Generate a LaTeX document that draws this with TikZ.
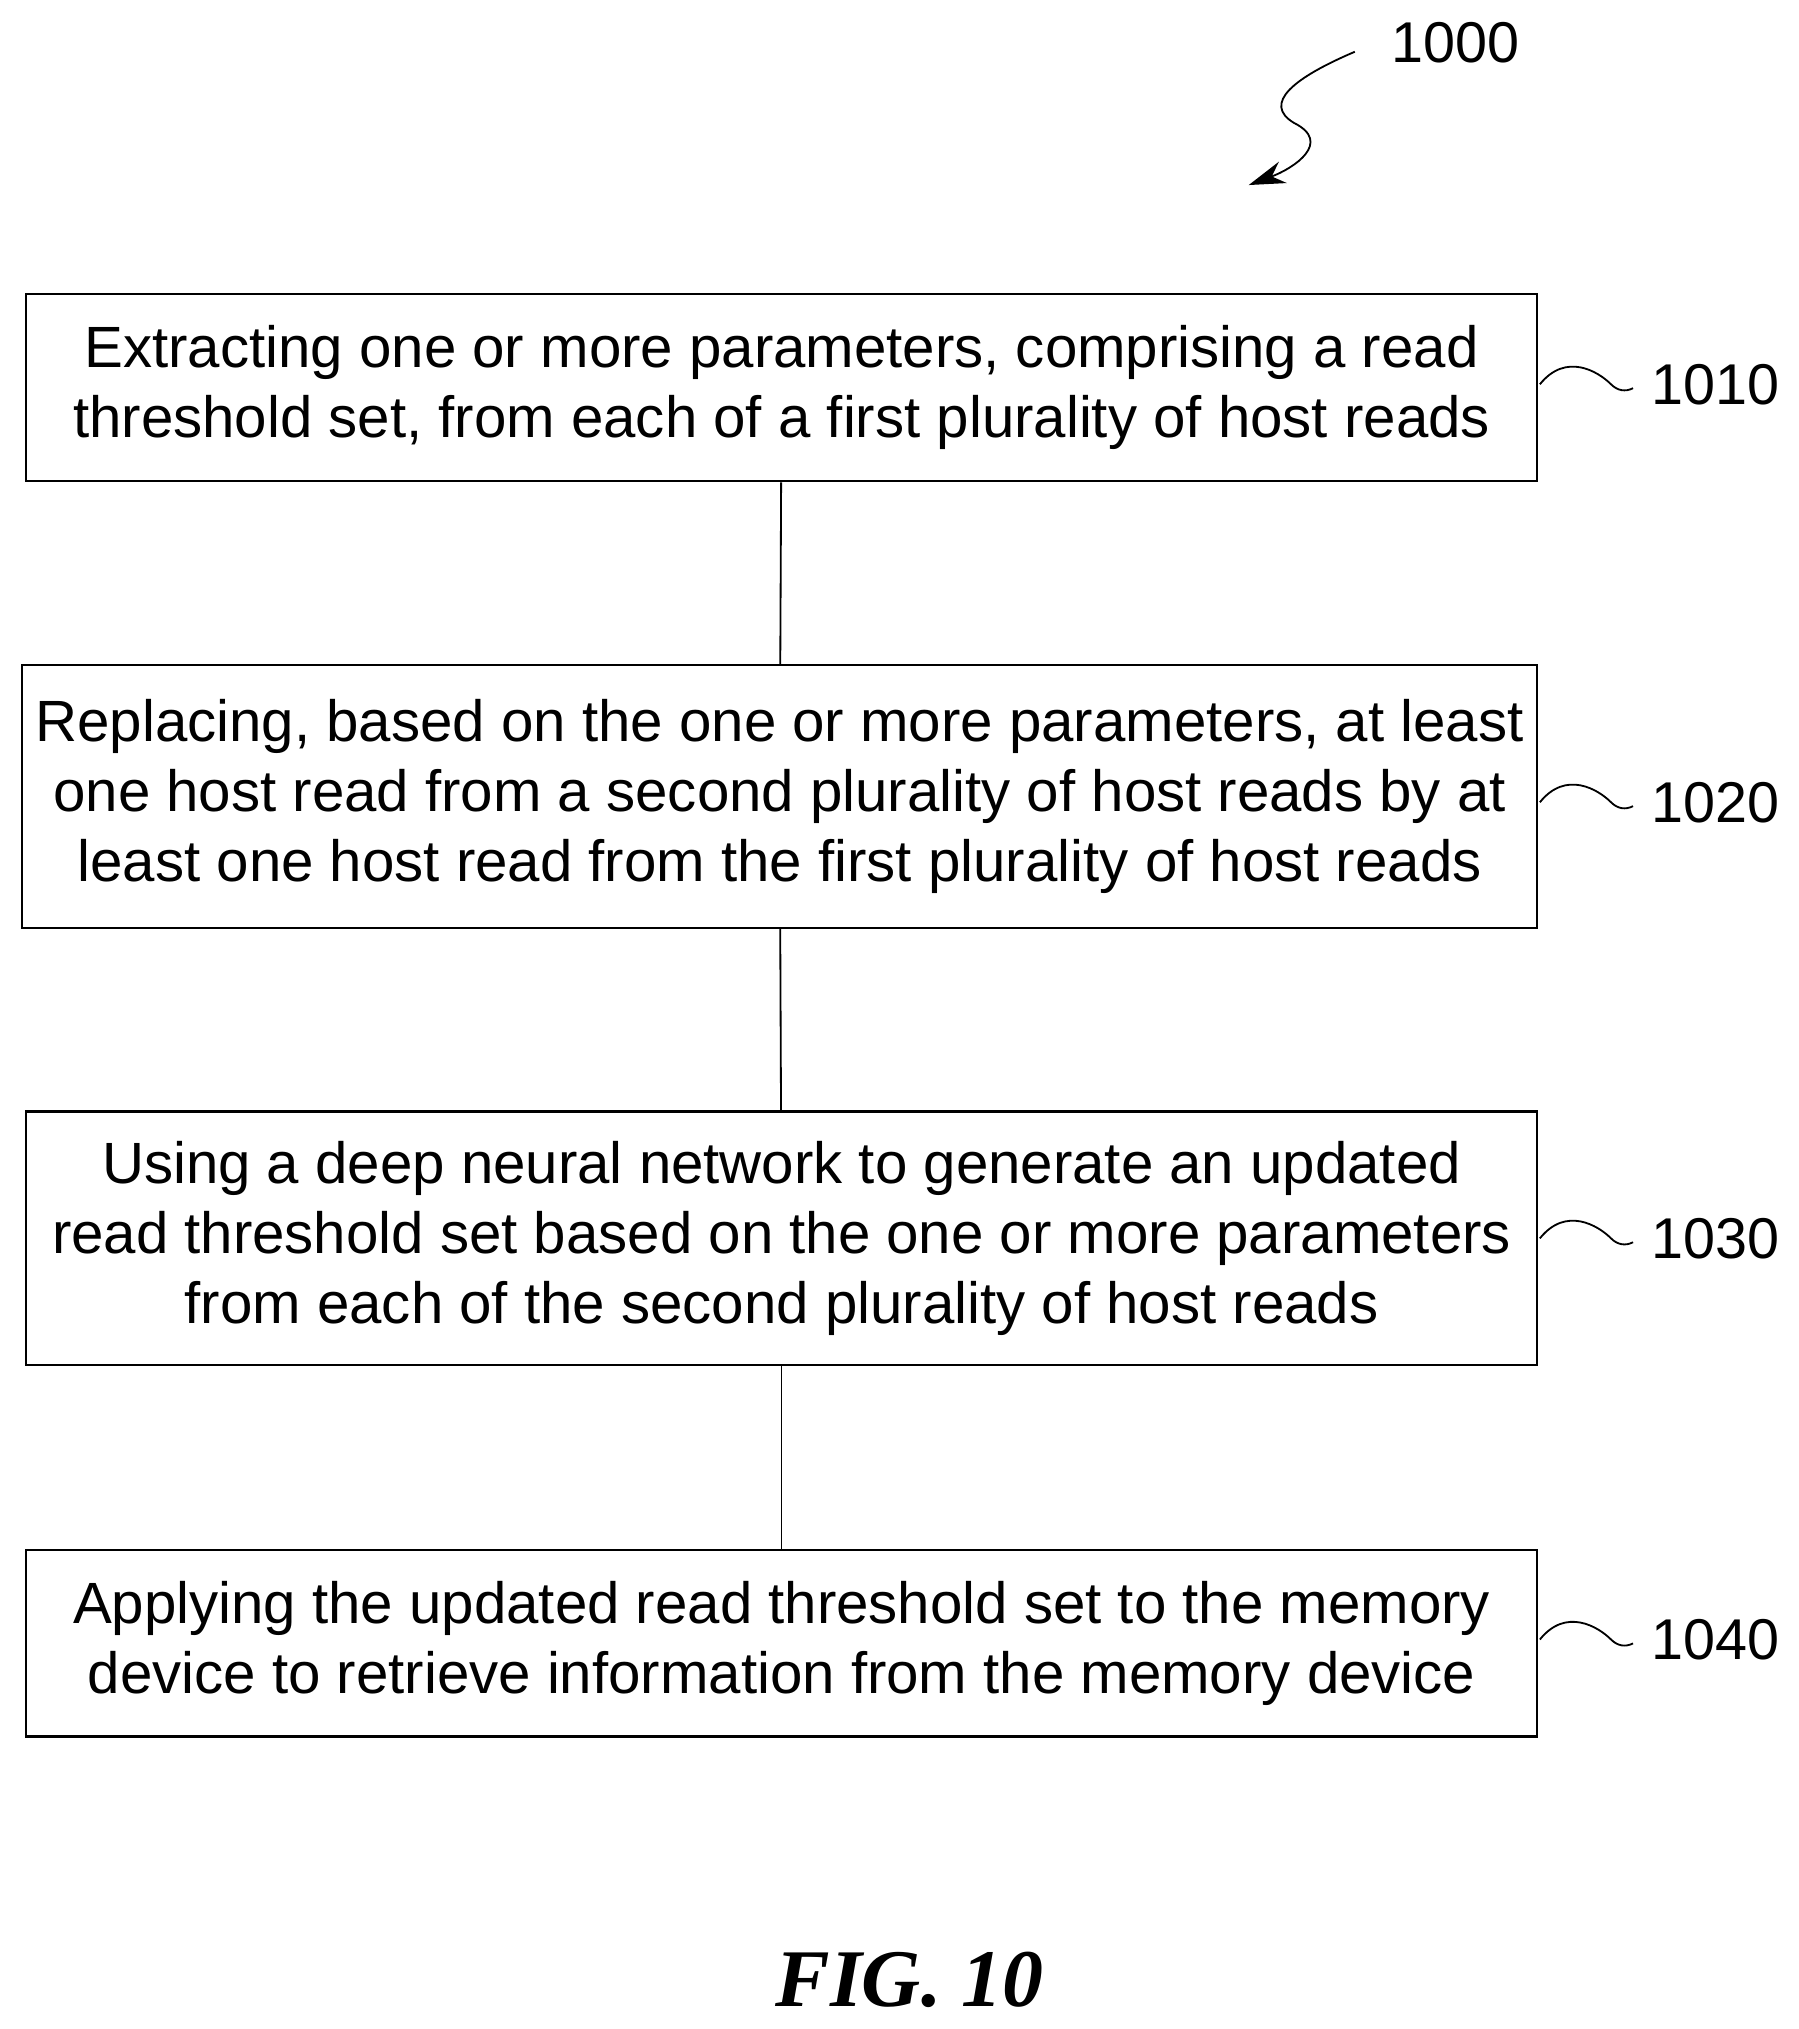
\documentclass[tikz,border=0pt]{standalone}
\usepackage{fontspec}
\setmainfont{Liberation Sans}
\newfontfamily\figfont{Liberation Serif}
\usetikzlibrary{arrows.meta}
\begin{document}
\begin{tikzpicture}[x=0.02cm,y=-0.02cm]
\tikzset{
  flowbox/.style={draw, line width=1pt, inner sep=0pt, align=center,
    font=\fontsize{25.6}{30.7}\selectfont},
  reflabel/.style={font=\fontsize{25.3}{28}\selectfont, anchor=west, inner sep=0pt},
  link/.style={line width=0.8pt}
}
\useasboundingbox (0,0) rectangle (1390,1568);
\node[flowbox, minimum width=23.36cm, minimum height=2.9cm] (s1010) at (604,299.5)
  {Extracting one or more parameters, comprising a read\\threshold set, from each of a first plurality of host reads};
\node[flowbox, minimum width=23.42cm, minimum height=4.06cm] (s1020) at (602.5,615.5)
  {Replacing, based on the one or more parameters, at least\\one host read from a second plurality of host reads by at\\least one host read from the first plurality of host reads};
\node[flowbox, minimum width=23.36cm, minimum height=3.92cm] (s1030) at (604,957)
  {Using a deep neural network to generate an updated\\read threshold set based on the one or more parameters\\from each of the second plurality of host reads};
\node[flowbox, minimum width=23.36cm, minimum height=2.88cm] (s1040) at (604,1270)
  {Applying the updated read threshold set to the memory\\device to retrieve information from the memory device};
\draw[link] (s1010) -- (s1020);
\draw[link] (s1020) -- (s1030);
\draw[link] (s1030) -- (s1040);
% reference labels with squiggles
\foreach \n/\y in {1010/297, 1020/620, 1030/957, 1040/1267}{
  \coordinate (w\n) at (1190,\y);
  \node[reflabel] (l\n) at (1276,\y) {\n};
  \draw[link] (w\n) .. controls (1210,\y-25) and (1235,\y-10) .. (1245,\y)
    .. controls (1250,\y+5) and (1256,\y+6) .. (1262,\y+3);
}
% figure number
\node[reflabel] (l1000) at (1075,33) {1000};
\coordinate (a1000) at (1047,40);
\draw[link, -{Stealth[length=16pt, width=10pt]}] (a1000) .. controls (1000,60) and (975,80) .. (1000,95)
  .. controls (1030,110) and (1000,130) .. (965,143);
\node[font=\figfont\bfseries\itshape\fontsize{36}{40}\selectfont] (fig) at (703,1530) {FIG. 10};
\end{tikzpicture}
\end{document}
